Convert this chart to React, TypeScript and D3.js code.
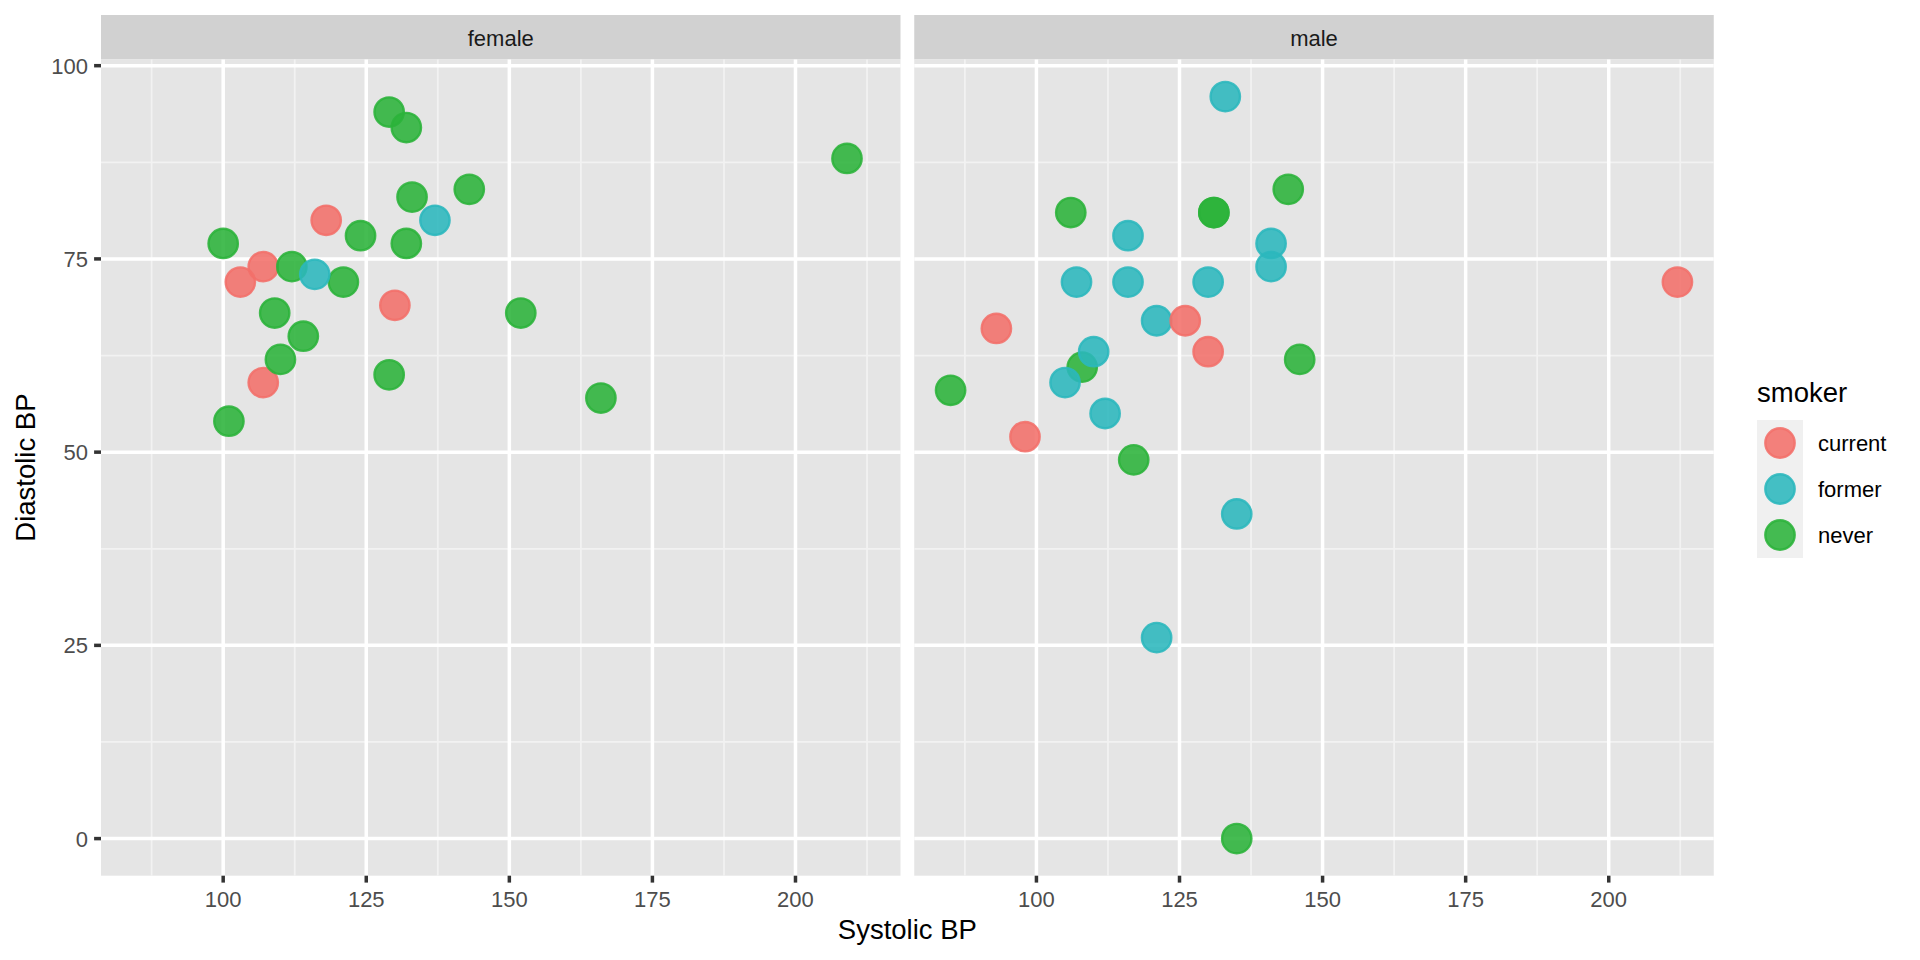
import React from 'react';
import * as d3 from 'd3';

// ---- data ----
const panels = ['female', 'male'];
const smokerLevels = ['current', 'former', 'never'];
const smokerColors = ['#F26F6A', '#2BB7BD', '#2BB33A'];
const xTicks = [100, 125, 150, 175, 200];
const yTicks = [0, 25, 50, 75, 100];

const femaleSystolic = [107, 103, 118, 130, 107, 129, 132, 209, 143, 133, 124, 100, 132, 112, 121, 109, 152, 114, 110, 129, 166, 101, 116, 137];
const femaleDiastolic = [74, 72, 80, 69, 59, 94, 92, 88, 84, 83, 78, 77, 77, 74, 72, 68, 68, 65, 62, 60, 57, 54, 73, 80];
const femaleSmoker = ['current', 'current', 'current', 'current', 'current', 'never', 'never', 'never', 'never', 'never', 'never', 'never', 'never', 'never', 'never', 'never', 'never', 'never', 'never', 'never', 'never', 'never', 'former', 'former'];

const maleSystolic = [144, 106, 131, 131, 108, 146, 85, 117, 135, 133, 116, 141, 141, 107, 116, 130, 121, 110, 105, 112, 135, 121, 93, 126, 130, 98, 212];
const maleDiastolic = [84, 81, 81, 81, 61, 62, 58, 49, 0, 96, 78, 77, 74, 72, 72, 72, 67, 63, 59, 55, 42, 26, 66, 67, 63, 52, 72];
const maleSmoker = ['never', 'never', 'never', 'never', 'never', 'never', 'never', 'never', 'never', 'former', 'former', 'former', 'former', 'former', 'former', 'former', 'former', 'former', 'former', 'former', 'former', 'former', 'current', 'current', 'current', 'current', 'current'];

const xTitle = 'Systolic BP';
const yTitle = 'Diastolic BP';
const legendTitle = 'smoker';

// ---- layout ----
const W = 1920;
const H = 960;
const FONT = '"Liberation Sans", Arial, Helvetica, sans-serif';
const panelTop = 59.5;
const panelBottom = 875.7;
const stripTop = 15;
const panelLeft0 = 101;
const panelWidth = 799.5;
const panelGap = 13.75;
const majorW = 3.5;
const minorW = 1.75;
const pointAlpha = 0.88;

function expand(ext: [number, number]): [number, number] {
  const d = (ext[1] - ext[0]) * 0.05;
  return [ext[0] - d, ext[1] + d];
}

export default function App() {
  const allX = [...femaleSystolic, ...maleSystolic];
  const allY = [...femaleDiastolic, ...maleDiastolic];
  const xDom = expand(d3.extent(allX) as [number, number]);
  const yDom = expand(d3.extent(allY) as [number, number]);

  const yScale = d3.scaleLinear().domain(yDom).range([panelBottom, panelTop]);
  const color = d3.scaleOrdinal<string, string>().domain(smokerLevels).range(smokerColors);

  const xMinor = xTicks.map((t) => t - 12.5).concat([xTicks[xTicks.length - 1] + 12.5]);
  const yMinor = yTicks.slice(1).map((t) => t - 12.5);

  const panelData = [
    { name: panels[0], xs: femaleSystolic, ys: femaleDiastolic, ss: femaleSmoker },
    { name: panels[1], xs: maleSystolic, ys: maleDiastolic, ss: maleSmoker },
  ];

  const r = 14.7;
  const pStroke = 2.36;

  return (
    <svg width={W} height={H} style={{ position: 'absolute', left: 0, top: 0, background: '#fff' }} fontFamily={FONT}>
      {panelData.map((p, pi) => {
        const left = panelLeft0 + pi * (panelWidth + panelGap);
        const xScale = d3.scaleLinear().domain(xDom).range([left, left + panelWidth]);
        return (
          <g key={p.name}>
            {/* strip */}
            <rect x={left} y={stripTop} width={panelWidth} height={panelTop - stripTop} fill="#D1D1D1" />
            <text x={left + panelWidth / 2} y={45.5} textAnchor="middle" fontSize={22} fill="#1A1A1A">{p.name}</text>
            {/* panel */}
            <rect x={left} y={panelTop} width={panelWidth} height={panelBottom - panelTop} fill="#E5E5E5" />
            <g>
              {yMinor.filter((v) => v >= yDom[0] && v <= yDom[1]).map((v) => (
                <line key={'ym' + v} x1={left} x2={left + panelWidth} y1={yScale(v)} y2={yScale(v)} stroke="#F2F2F2" strokeWidth={minorW} />
              ))}
              {xMinor.filter((v) => v >= xDom[0] && v <= xDom[1]).map((v) => (
                <line key={'xm' + v} x1={xScale(v)} x2={xScale(v)} y1={panelTop} y2={panelBottom} stroke="#F2F2F2" strokeWidth={minorW} />
              ))}
              {yTicks.map((v) => (
                <line key={'y' + v} x1={left} x2={left + panelWidth} y1={yScale(v)} y2={yScale(v)} stroke="#FFFFFF" strokeWidth={majorW} />
              ))}
              {xTicks.map((v) => (
                <line key={'x' + v} x1={xScale(v)} x2={xScale(v)} y1={panelTop} y2={panelBottom} stroke="#FFFFFF" strokeWidth={majorW} />
              ))}
            </g>
            {/* points */}
            <g>
              {p.xs.map((xv, i) => {
                const c = color(p.ss[i]);
                return (
                  <circle key={i} cx={xScale(xv)} cy={yScale(p.ys[i])} r={r} fill={c} fillOpacity={pointAlpha} stroke={c} strokeOpacity={pointAlpha} strokeWidth={pStroke} />
                );
              })}
            </g>
            {/* x axis */}
            <g>
              {xTicks.map((v) => (
                <g key={'xt' + v}>
                  <line x1={xScale(v)} x2={xScale(v)} y1={panelBottom} y2={panelBottom + 6.9} stroke="#333333" strokeWidth={majorW} />
                  <text x={xScale(v)} y={906.5} textAnchor="middle" fontSize={22} fill="#4D4D4D">{v}</text>
                </g>
              ))}
            </g>
            {/* y axis on first panel */}
            {pi === 0 && (
              <g>
                {yTicks.map((v) => (
                  <g key={'yt' + v}>
                    <line x1={left - 6.9} x2={left} y1={yScale(v)} y2={yScale(v)} stroke="#333333" strokeWidth={majorW} />
                    <text x={88} y={yScale(v)} dy="0.36em" textAnchor="end" fontSize={22} fill="#4D4D4D">{v}</text>
                  </g>
                ))}
              </g>
            )}
          </g>
        );
      })}
      {/* axis titles */}
      <text x={(panelLeft0 + panelLeft0 + 2 * panelWidth + panelGap) / 2} y={939} textAnchor="middle" fontSize={27.5} fill="#000">{xTitle}</text>
      <text transform={`translate(35,${(panelTop + panelBottom) / 2}) rotate(-90)`} textAnchor="middle" fontSize={27.5} fill="#000">{yTitle}</text>
      {/* legend */}
      <g>
        <text x={1757} y={402} fontSize={27.5} fill="#000">{legendTitle}</text>
        {smokerLevels.map((s, i) => {
          const cy = 443 + i * 46;
          return (
            <g key={s}>
              <rect x={1757} y={420 + i * 46} width={46} height={46} fill="#F0F0F0" />
              <circle cx={1780} cy={cy} r={r} fill={color(s)} fillOpacity={pointAlpha} stroke={color(s)} strokeOpacity={pointAlpha} strokeWidth={pStroke} />
              <text x={1818} y={cy} dy="0.36em" fontSize={22} fill="#000">{s}</text>
            </g>
          );
        })}
      </g>
    </svg>
  );
}
